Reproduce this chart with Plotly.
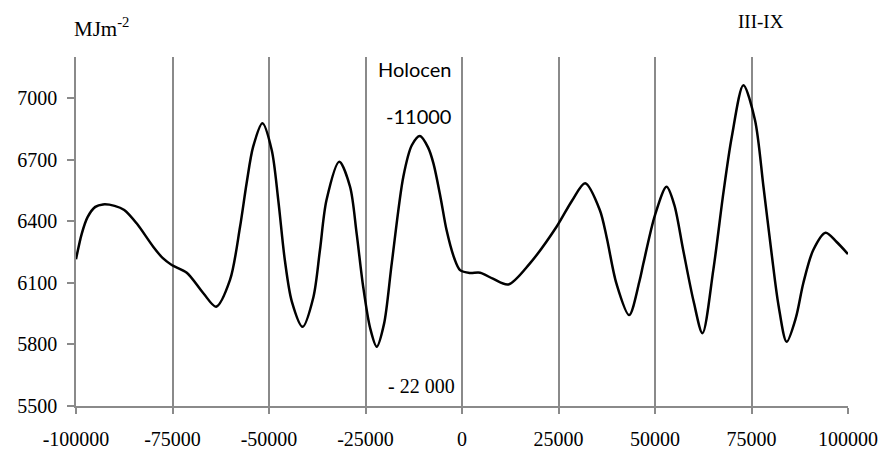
import plotly.graph_objects as go

years = [-100000, -98500, -97000, -95000, -93000, -90000, -87500, -84300, -80000, -77500,
         -75200, -71300, -67000, -63700, -60100, -57500, -55800, -54100, -51700, -49300,
         -47600, -45900, -44100, -41300, -38500, -36800, -35100, -31800, -29000, -27300,
         -25600, -23800, -22100, -20200, -18200, -15200, -13000, -10900, -8800, -7400,
         -5500, -4000, -2000, -500, 2000, 4700, 8000, 12000, 17600, 24500,
         28500, 31900, 35700, 37500, 40000, 43300, 46000, 47000, 50000, 53000,
         55000, 57300, 60000, 62300, 65100, 67700, 69900, 72900, 75900, 78100,
         80200, 82000, 84100, 86500, 88400, 91000, 94200, 97000, 100000]
insolation = [6215, 6340, 6420, 6470, 6482, 6475, 6455, 6390, 6276, 6220,
              6187, 6149, 6049, 5984, 6114, 6373, 6585, 6763, 6877, 6747,
              6503, 6211, 6010, 5886, 6030, 6260, 6503, 6690, 6568, 6341,
              6081, 5880, 5789, 5900, 6195, 6617, 6770, 6815, 6760, 6682,
              6510, 6357, 6220, 6162, 6148, 6149, 6120, 6092, 6195, 6373,
              6500, 6585, 6455, 6320, 6097, 5943, 6110, 6195, 6430, 6568,
              6480, 6260, 6010, 5854, 6162, 6536, 6812, 7063, 6893, 6568,
              6244, 5990, 5813, 5930, 6097, 6260, 6344, 6300, 6240]

x_ticks = [-100000, -75000, -50000, -25000, 0, 25000, 50000, 75000, 100000]
y_ticks = [5500, 5800, 6100, 6400, 6700, 7000]

serif = "Liberation Serif, Times New Roman, serif"
grey = "#8a8a8a"

fig = go.Figure()
fig.add_trace(go.Scatter(x=years, y=insolation, mode="lines",
                         line=dict(color="black", width=2.5, shape="spline", smoothing=0.85),
                         showlegend=False, hoverinfo="skip"))

fig.update_layout(
    width=881, height=450,
    margin=dict(l=76, r=33, t=57, b=44),
    paper_bgcolor="white", plot_bgcolor="white",
    font=dict(family=serif, size=20, color="black"),
    xaxis=dict(range=[-100000, 100000], tickvals=x_ticks, ticktext=[str(v) for v in x_ticks],
               showgrid=True, gridcolor=grey, gridwidth=1.5, automargin=False,
               showline=True, linecolor=grey, linewidth=1.5,
               ticks="outside", ticklen=6, tickcolor=grey, tickwidth=1.5,
               ticklabelstandoff=8, zeroline=False,
               tickfont=dict(family=serif, size=20, color="black")),
    yaxis=dict(range=[5500, 7200], tickvals=y_ticks, ticktext=[str(v) for v in y_ticks],
               showgrid=False, automargin=False,
               showline=True, linecolor=grey, linewidth=1.5,
               ticks="outside", ticklen=7, tickcolor=grey, tickwidth=1.5,
               ticklabelstandoff=6, zeroline=False,
               tickfont=dict(family=serif, size=20, color="black")),
    annotations=[
        dict(text="MJm<sup>-2</sup>", xref="paper", yref="paper", x=-0.005, y=1.085,
             xanchor="left", yanchor="middle", showarrow=False,
             font=dict(family=serif, size=21, color="black")),
        dict(text="III-IX", xref="paper", yref="paper", x=0.855, y=1.103,
             xanchor="left", yanchor="middle", showarrow=False,
             font=dict(family=serif, size=19, color="black")),
        dict(text="Holocen", xref="x", yref="y", x=-2330, y=7140,
             xanchor="right", yanchor="middle", showarrow=False,
             font=dict(family="Lato, Carlito, sans-serif", size=20, color="black")),
        dict(text="-11000", xref="x", yref="y", x=-2330, y=6912,
             xanchor="right", yanchor="middle", showarrow=False,
             font=dict(family="Lato, Carlito, sans-serif", size=20, color="black")),
        dict(text="- 22 000", xref="x", yref="y", x=-1300, y=5597,
             xanchor="right", yanchor="middle", showarrow=False,
             font=dict(family=serif, size=20, color="black")),
    ],
)

fig.write_html("out.html")
